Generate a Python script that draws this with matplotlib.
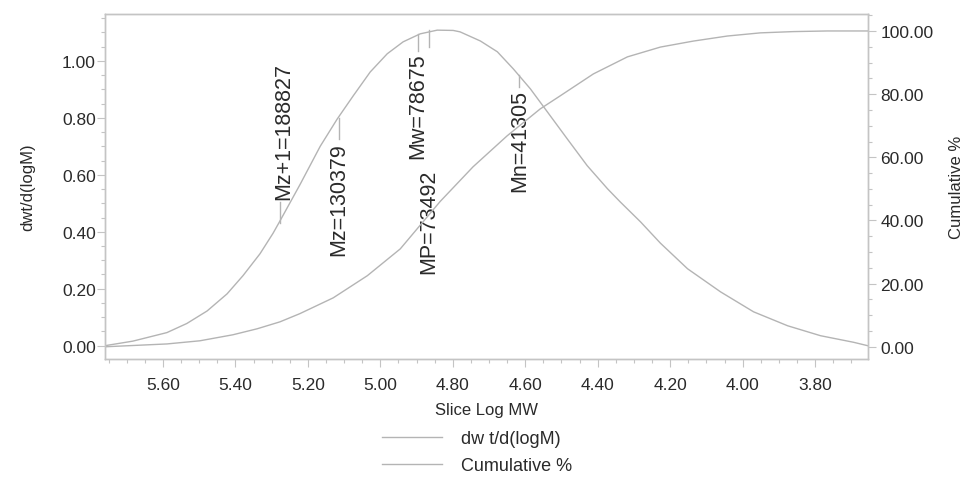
import numpy as np
import matplotlib
matplotlib.use("Agg")
import matplotlib.pyplot as plt
from matplotlib.ticker import MultipleLocator, FormatStrFormatter

plt.rcParams['font.family'] = ['Liberation Sans', 'DejaVu Sans']

# slice log MW vs dwt/d(logM)
log_mw = [5.760, 5.683, 5.589, 5.534, 5.478, 5.423, 5.379, 5.332, 5.296, 5.277,
          5.222, 5.166, 5.119, 5.075, 5.028, 4.981, 4.937, 4.890, 4.843, 4.799,
          4.780, 4.724, 4.677, 4.633, 4.586, 4.539, 4.484, 4.429, 4.373, 4.338,
          4.282, 4.227, 4.152, 4.061, 3.970, 3.876, 3.785, 3.694, 3.655]
dwt = [0.0, 0.016, 0.046, 0.078, 0.122, 0.182, 0.246, 0.323, 0.395, 0.438,
       0.565, 0.700, 0.796, 0.877, 0.961, 1.025, 1.067, 1.095, 1.108, 1.107,
       1.102, 1.070, 1.032, 0.972, 0.902, 0.821, 0.726, 0.632, 0.551, 0.505,
       0.435, 0.360, 0.270, 0.189, 0.119, 0.070, 0.035, 0.012, 0.0]

# cumulative %
log_mw_cum = [5.760, 5.589, 5.498, 5.407, 5.340, 5.277, 5.222, 5.130, 5.036, 4.945,
              4.890, 4.835, 4.744, 4.650, 4.559, 4.503, 4.412, 4.318, 4.227, 4.136,
              4.042, 3.951, 3.860, 3.766, 3.655]
cum = [0.0, 0.9, 1.9, 3.8, 5.7, 7.9, 10.5, 15.5, 22.5, 31.0,
       38.5, 46.0, 57.0, 66.8, 75.3, 79.5, 86.4, 91.8, 94.9, 96.8,
       98.4, 99.4, 99.8, 100.0, 100.0]

# molecular weight averages
mw_names = ["Mz+1", "Mz", "Mw", "MP", "Mn"]
mw_values = [188827, 130379, 78675, 73492, 41305]

line_col = "#b4b4b4"
spine_col = "#c4c4c4"
text_col = "#2a2a2a"

fig = plt.figure(figsize=(9.63, 4.81), dpi=100)
ax = fig.add_axes([0.109, 0.252, 0.792, 0.717])
ax2 = ax.twinx()

l1, = ax.plot(log_mw, dwt, color=line_col, lw=1.0, label="dw t/d(logM)")
l2, = ax2.plot(log_mw_cum, cum, color=line_col, lw=1.0, label="Cumulative %")

ax.set_xlim(5.76, 3.655)
ax.set_ylim(-0.046, 1.165)
ax2.set_ylim(-3.8, 105.4)

# markers: (line start, line end, text anchor y, va, text x shift)
marks = {
    "Mz+1": (0.43, 0.505, 0.515, "bottom", -0.01),
    "Mz": (0.80, 0.725, 0.716, "top", 0.0),
    "Mw": (1.095, 1.035, 1.03, "top", 0.0),
    "MP": (1.11, 1.05, 0.62, "top", 0.0),
    "Mn": (0.95, 0.91, 0.90, "top", 0.0),
}
for name, val in zip(mw_names, mw_values):
    x = np.log10(val)
    y0, y1, ty, va, dx = marks[name]
    ax.plot([x, x], [y0, y1], color=line_col, lw=1.0)
    ax.text(x + dx, ty, f"{name}={val}", rotation=90, ha="center", va=va,
            fontsize=15.5, color=text_col)

ax.xaxis.set_major_locator(MultipleLocator(0.2))
ax.xaxis.set_minor_locator(MultipleLocator(0.05))
ax.xaxis.set_major_formatter(FormatStrFormatter("%.2f"))
ax.yaxis.set_major_locator(MultipleLocator(0.2))
ax.yaxis.set_minor_locator(MultipleLocator(0.05))
ax.yaxis.set_major_formatter(FormatStrFormatter("%.2f"))
ax2.yaxis.set_major_locator(MultipleLocator(20))
ax2.yaxis.set_minor_locator(MultipleLocator(5))
ax2.yaxis.set_major_formatter(FormatStrFormatter("%.2f"))

for a in (ax, ax2):
    a.tick_params(which="major", length=6, width=0.8, color=spine_col,
                  labelsize=12.5, labelcolor=text_col)
    a.tick_params(which="minor", length=3, width=0.8, color=spine_col)
    for s in a.spines.values():
        s.set_color(spine_col)
        s.set_linewidth(1.0)
ax.tick_params(axis="y", pad=0.5)
ax.tick_params(axis="x", pad=7)
ax2.tick_params(axis="y", pad=3)

ax.set_xlabel("Slice Log MW", fontsize=12, color=text_col, labelpad=7)
ax.set_ylabel("dwt/d(logM)", fontsize=12, color=text_col, labelpad=19)
ax2.set_ylabel("Cumulative %", fontsize=12, color=text_col, labelpad=11)

fig.legend(handles=[l1, l2], loc="upper left", bbox_to_anchor=(382 / 963, 1 - 431 / 481),
           frameon=False, fontsize=13, handlelength=3.3, handletextpad=1.1,
           labelspacing=0.55, borderpad=0, borderaxespad=0, labelcolor=text_col)

fig.savefig("out.png", dpi=100)
